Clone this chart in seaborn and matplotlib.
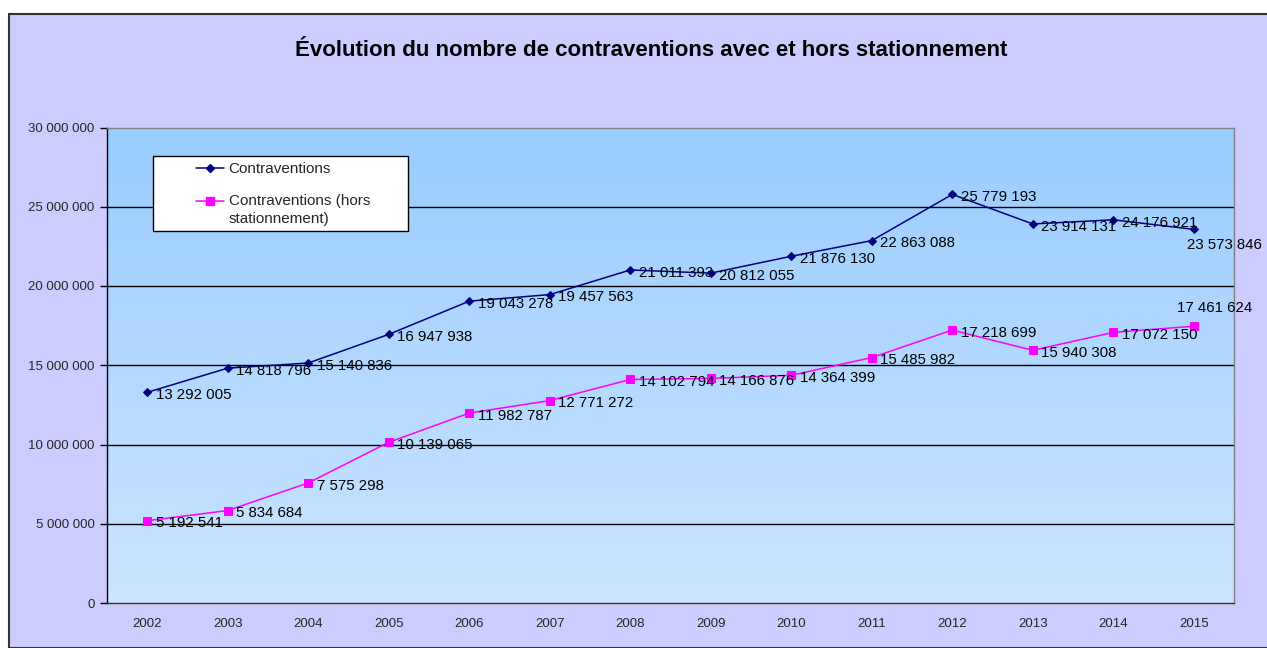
import numpy as np
import pandas as pd
import matplotlib
matplotlib.use("Agg")
import matplotlib.pyplot as plt
from matplotlib.patches import Rectangle
from matplotlib.lines import Line2D
from matplotlib.colors import LinearSegmentedColormap
import seaborn as sns

years = ["2002", "2003", "2004", "2005", "2006", "2007", "2008", "2009",
         "2010", "2011", "2012", "2013", "2014", "2015"]
contraventions = [13292005, 14818796, 15140836, 16947938, 19043278, 19457563,
                  21011393, 20812055, 21876130, 22863088, 25779193, 23914131,
                  24176921, 23573846]
hors_stationnement = [5192541, 5834684, 7575298, 10139065, 11982787, 12771272,
                      14102794, 14166876, 14364399, 15485982, 17218699, 15940308,
                      17072150, 17461624]
series_names = ["Contraventions", "Contraventions (hors\nstationnement)"]
y_ticks = [0, 5000000, 10000000, 15000000, 20000000, 25000000, 30000000]
title = "Évolution du nombre de contraventions avec et hors stationnement"

sns.set_theme(style="white")
plt.rcParams['font.family'] = ['Liberation Sans', 'DejaVu Sans']

W, H = 1267, 648
fig = plt.figure(figsize=(W / 100, H / 100), dpi=100)
fig.patch.set_facecolor("white")

# Lavender chart area with border
bg = Rectangle((9 / W, 0), (W - 9) / W + 0.01, (H - 14) / H, transform=fig.transFigure,
               facecolor="#CCCCFF", edgecolor="#333333", linewidth=1.5, zorder=-10)
fig.patches.append(bg)

left, right, top, bottom = 107, 1234, 127.5, 603
ax = fig.add_axes([left / W, 1 - bottom / H, (right - left) / W, (bottom - top) / H])

# gradient background
grad = np.linspace(0, 1, 256).reshape(-1, 1)
cmap = LinearSegmentedColormap.from_list("g", ["#99CCFF", "#CCE5FF"])
ax.imshow(grad, aspect="auto", cmap=cmap, extent=[0, 1, 0, 1],
          transform=ax.transAxes, zorder=0)

fmt = lambda v: f"{v:,}".replace(",", " ")

df = pd.DataFrame({
    "pos": list(range(len(years))) * 2,
    "value": contraventions + hors_stationnement,
    "series": [series_names[0]] * len(years) + [series_names[1]] * len(years),
})

styles = [(series_names[0], "#000080", "D", 4.5),
          (series_names[1], "#FF00FF", "s", 5.5)]
for name, color, marker, ms in styles:
    sub = df[df["series"] == name]
    sns.lineplot(data=sub, x="pos", y="value", ax=ax, color=color, marker=marker,
                 markersize=ms, markeredgecolor=color, linewidth=1.1, zorder=5,
                 legend=False)

LFS = 10.8
# data labels
for i, v in enumerate(contraventions):
    if i == len(years) - 1:
        ax.annotate(fmt(v), (i, v), xytext=(-5, -6), textcoords="offset points",
                    ha="left", va="top", fontsize=LFS, color="black", zorder=6)
    else:
        ax.annotate(fmt(v), (i, v), xytext=(6, -2), textcoords="offset points",
                    ha="left", va="center", fontsize=LFS, color="black", zorder=6)
for i, v in enumerate(hors_stationnement):
    if i == len(years) - 1:
        ax.annotate(fmt(v), (i, v), xytext=(-12, 8), textcoords="offset points",
                    ha="left", va="bottom", fontsize=LFS, color="black", zorder=6)
    else:
        ax.annotate(fmt(v), (i, v), xytext=(6, -2), textcoords="offset points",
                    ha="left", va="center", fontsize=LFS, color="black", zorder=6)

ax.set_xlim(-0.5, len(years) - 0.5)
ax.set_ylim(0, 30000000)
ax.set_yticks(y_ticks)
ax.set_yticklabels([fmt(t) for t in y_ticks], fontsize=9.5)
ax.set_xticks(range(len(years)))
ax.set_xticklabels(years, fontsize=9.5)
ax.set_xticks(np.arange(-0.5, len(years)), minor=True)
ax.tick_params(axis="x", which="major", length=0, pad=11)
ax.tick_params(axis="x", which="minor", length=5, width=1, color="#333333", direction="out")
ax.tick_params(axis="y", which="major", length=5, width=1, color="black", direction="out", pad=4, left=True)
ax.set_xlabel("")
ax.set_ylabel("")

for yv in y_ticks[1:-1]:
    ax.axhline(yv, color="black", linewidth=1, zorder=1)

ax.spines["left"].set_color("black")
ax.spines["bottom"].set_color("#333333")
ax.spines["top"].set_color("#808080")
ax.spines["right"].set_color("#808080")
for s in ax.spines.values():
    s.set_linewidth(1)
    s.set_visible(True)

# legend box (Excel-style fixed-size white frame)
lbox = Rectangle((153 / W, 1 - 231 / H), (408 - 153) / W, (231 - 156) / H,
                 transform=fig.transFigure, facecolor="white", edgecolor="black",
                 linewidth=1, zorder=7)
ax.add_patch(lbox)

handles = [Line2D([0], [0], color=c, marker=m, markersize=ms, linewidth=1.1,
                  markeredgecolor=c) for _, c, m, ms in styles]
leg = ax.legend(handles, series_names, loc="upper left",
                bbox_to_anchor=(196 / W, 1 - 162 / H), bbox_transform=fig.transFigure,
                frameon=False, fontsize=11, handlelength=1.85, handleheight=1.2,
                labelspacing=1.1, borderpad=0, handletextpad=0.28, borderaxespad=0)
leg.set_zorder(8)
for t in leg.get_texts():
    t.set_linespacing(1.3)
try:
    for col in leg._legend_handle_box.get_children():
        for row in col.get_children():
            row.align = "top"
except Exception:
    pass

fig.text(651 / W, 1 - 50 / H, title, ha="center", va="center",
         fontsize=16, fontweight="bold", color="black")

fig.savefig("out.png", dpi=100)
